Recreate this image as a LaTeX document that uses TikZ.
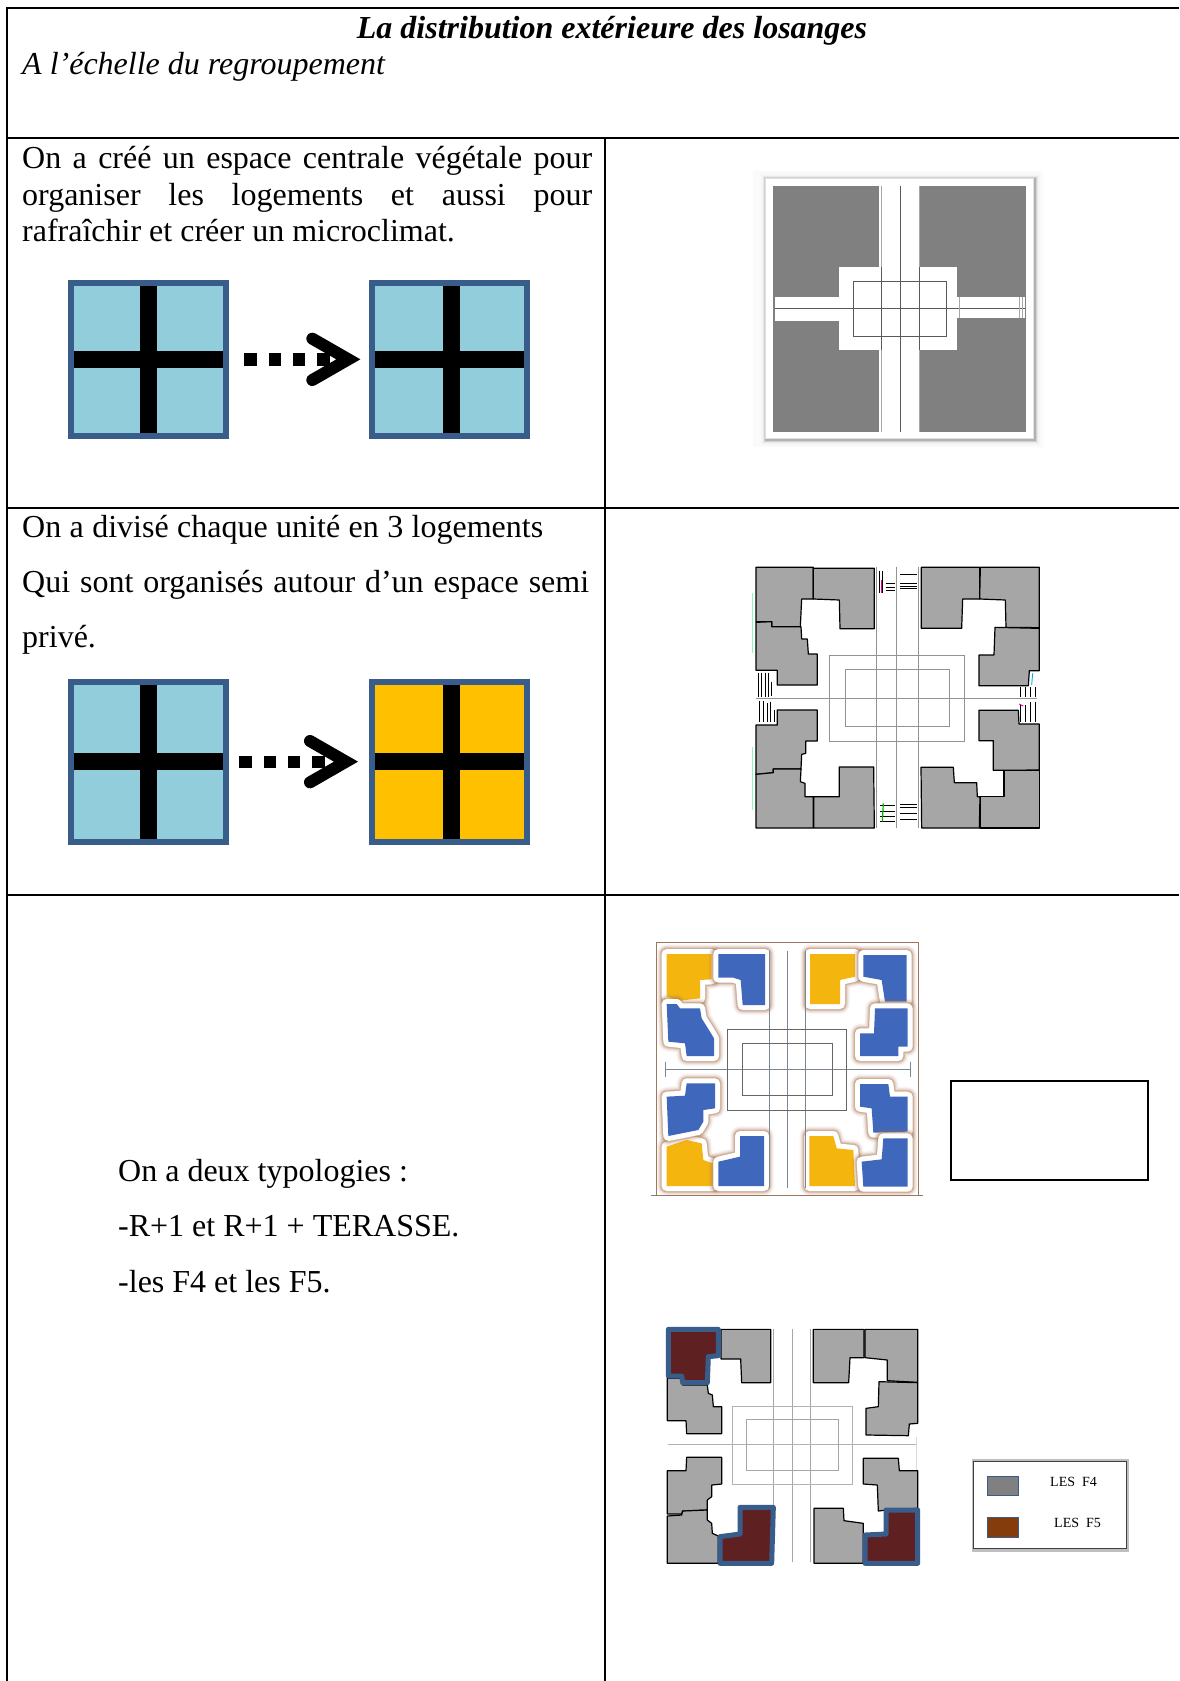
\documentclass[tikz,border=0pt]{standalone}
\usepackage{fontspec}
\setmainfont{Liberation Serif}
\definecolor{frameblue}{HTML}{385D8A}
\definecolor{skyfill}{HTML}{92CDDC}
\definecolor{sunfill}{HTML}{FFC000}
\definecolor{planyellow}{HTML}{F5B50F}
\definecolor{planblue}{HTML}{3F67BB}
\definecolor{plangray}{HTML}{A6A6A6}
\definecolor{maroon}{HTML}{5E2020}
\definecolor{halobrown}{HTML}{A9744F}
\definecolor{legbrown}{HTML}{843C0C}
\definecolor{slateline}{HTML}{7C8794}
\tikzset{
  rule/.style={line width=2pt,black},
  bodytext/.style={anchor=base west,inner sep=0pt,font=\fontsize{32}{38}\selectfont},
  titletext/.style={anchor=base,inner sep=0pt,font=\fontsize{32}{38}\selectfont\bfseries\itshape},
  subtext/.style={anchor=base west,inner sep=0pt,font=\fontsize{32}{38}\selectfont\itshape},
  legtext/.style={anchor=base west,inner sep=0pt,font=\fontsize{14}{16}\selectfont},
  zoomed/.style={x=0.33333pt,y=-0.33333pt},
  house/.style={fill=plangray,draw=black,line width=1.2pt,line join=round},
  planline/.style={draw=gray!85,line width=1pt},
  flatline/.style={draw=black!65,line width=.8pt},
  maroonhouse/.style={fill=maroon,draw=frameblue,line width=5pt,line join=round},
  noise/.style={line width=.9pt,black},
}
\newcommand{\unitsq}[6]{% x0, y0, y1, ycross, fill, vertical bar offset
  \fill[#5] ({#1+18},{#2+18}) rectangle ({#1+465},{#3-18});
  \fill[black] ({#1+#6},{#2+18}) rectangle ({#1+#6+51},{#3-18});
  \fill[black] ({#1+18},{#4}) rectangle ({#1+465},{#4+50});
  \draw[frameblue,line width=6pt] ({#1+9},{#2+9}) rectangle ({#1+474},{#3-9});
}
\newcommand{\dotarrow}[3]{% first dot x, dot top y, chevron apex x
  \foreach \k in {0,1,2,3}{\fill[black] ({#1+\k*73},{#2}) rectangle ({#1+\k*73+37},{#2+37});}
  \draw[black,line width=12pt,line cap=round,miter limit=10] ({#3-108},{#2+18-62}) -- ({#3},{#2+18}) -- ({#3-108},{#2+18+62});
}
\newcommand{\halopoly}[2]{%
  \foreach \w/\o in {20/.05,18/.08,16/.12,14/.18,12.5/.3}{%
    \draw[halobrown,opacity=\o,line width=\w pt,line join=round] #2 -- cycle;}
  \draw[white,line width=10pt,line join=round] #2 -- cycle;
  \fill[#1] #2 -- cycle;
}
\begin{document}
\begin{tikzpicture}[x=1pt,y=-1pt]
\useasboundingbox (0,0) rectangle (1179,1681);
\fill[white] (0,0) rectangle (1179,1681);
% table rules
\draw[rule] (1179,8) -- (7,8) -- (7,1681);
\draw[rule] (7,138) -- (1179,138);
\draw[rule] (7,508) -- (1179,508);
\draw[rule] (7,894.5) -- (1179,894.5);
\draw[rule] (605,138) -- (605,1681);
% header text
\node[titletext] (title) at (612,38) {La distribution extérieure des losanges};
\node[subtext] (sub) at (22,74) {A l’échelle du regroupement};
% row 1 text
\node[bodytext] (r1a) at (22,168) {\makebox[570pt][s]{On a créé un espace centrale végétale pour}};
\node[bodytext] (r1b) at (22,205) {\makebox[570pt][s]{organiser les logements et aussi pour}};
\node[bodytext] (r1c) at (22,241) {rafraîchir et créer un microclimat.};
% row 2 text
\node[bodytext] (r2a) at (22,537) {\makebox[521pt][s]{On a divisé chaque unité en 3 logements}};
\node[bodytext] (r2b) at (22,592) {\makebox[567pt][s]{Qui sont organisés autour d’un espace semi}};
\node[bodytext] (r2c) at (22,647) {privé.};
% row 3 text
\node[bodytext] (r3a) at (118,1181) {On a deux typologies :};
\node[bodytext] (r3b) at (118,1236) {-R+1 et R+1 + TERASSE.};
\node[bodytext] (r3c) at (118,1292) {-les F4 et les F5.};
% squares row 1
\begin{scope}[xshift=50pt,yshift=-270pt,zoomed]
  \unitsq{54}{30}{507}{243}{skyfill}{216}
  \unitsq{957}{30}{507}{243}{skyfill}{222}
  \dotarrow{583}{250}{895}
\end{scope}
% squares row 2
\begin{scope}[xshift=50pt,yshift=-670pt,zoomed]
  \unitsq{54}{27}{525}{249}{skyfill}{216}
  \unitsq{957}{27}{525}{249}{sunfill}{222}
  \dotarrow{568}{257}{888}
\end{scope}
% plan 1
\begin{scope}[xshift=720pt,yshift=-150pt,zoomed]
  \fill[black!2] (100,62) rectangle (968,892);
  \fill[black!4] (122,72) rectangle (960,884);
  \fill[black!9] (128,78) rectangle (955,880);
  \fill[black!18] (132,82) rectangle (950,876);
  \fill[black!30] (135,84) rectangle (947,873);
  \draw[black!12,fill=white,line width=1pt] (137,85) rectangle (941,866);
  \fill[black!50] (160,107) rectangle (917,845);
  \fill[white] (477,107) rectangle (600,845);
  \fill[white] (165,440) rectangle (360,512);
  \fill[white] (710,440) rectangle (915,505);
  \fill[white] (358,350) rectangle (712,600);
  \draw[flatline] (400,394) rectangle (680,558);
  \draw[flatline] (484,350) -- (484,600);
  \draw[flatline] (597,350) -- (597,600);
  \draw[flatline] (540,107) -- (540,845);
  \draw[flatline] (165,476) -- (915,476);
  \draw[black!35,line width=.6pt] (484,107) -- (484,350) (484,600) -- (484,845) (597,107) -- (597,350) (597,600) -- (597,845);
  \draw[black!35,line width=.6pt] (718,440) -- (718,505) (898,440) -- (898,505) (908,440) -- (908,505);
\end{scope}
% plan 2
\begin{scope}[xshift=720pt,yshift=-550pt,zoomed]
  \foreach \p in {469,530,595}{\draw[planline] (\p,50) -- (\p,835);}
  \draw[planline] (108,445) -- (950,445);
  \draw[planline] (327,316) rectangle (734,575);
  \draw[planline] (376,359) rectangle (688,530);
  \draw[house] (108,52) -- (280,52) -- (280,147) -- (245,147) -- (241,230) -- (155,230) -- (155,215) -- (108,215) -- cycle;
  \draw[house] (280,55) -- (463,55) -- (463,236) -- (360,236) -- (358,150) -- (280,147) -- cycle;
  \draw[house] (108,217) -- (155,215) -- (155,230) -- (243,230) -- (245,267) -- (262,267) -- (265,312) -- (292,312) -- (292,405) -- (172,405) -- (172,361) -- (108,361) -- cycle;
  \draw[house] (604,52) -- (779,52) -- (779,147) -- (728,147) -- (725,235) -- (604,235) -- cycle;
  \draw[house] (781,52) -- (958,52) -- (958,233) -- (858,232) -- (856,150) -- (779,147) -- cycle;
  \draw[house] (825,232) -- (958,235) -- (958,362) -- (928,362) -- (925,407) -- (777,407) -- (777,315) -- (822,315) -- cycle;
  \draw[house] (108,525) -- (172,525) -- (172,480) -- (292,480) -- (292,573) -- (257,573) -- (257,610) -- (245,613) -- (243,657) -- (160,657) -- (160,668) -- (108,673) -- cycle;
  \draw[house] (108,673) -- (160,668) -- (160,657) -- (243,657) -- (241,695) -- (255,700) -- (255,740) -- (280,740) -- (280,834) -- (108,834) -- cycle;
  \draw[house] (281,740) -- (358,740) -- (358,651) -- (461,651) -- (463,834) -- (281,834) -- cycle;
  \draw[house] (777,481) -- (895,481) -- (897,522) -- (958,522) -- (958,660) -- (820,661) -- (820,572) -- (777,572) -- cycle;
  \draw[house] (852,661) -- (958,661) -- (958,834) -- (780,834) -- (780,740) -- (852,740) -- cycle;
  \draw[house] (603,652) -- (700,652) -- (703,698) -- (770,698) -- (772,740) -- (780,740) -- (778,834) -- (605,834) -- cycle;
  % small stair details
  \draw[noise] (478,62) -- (478,128) (488,62) -- (488,128) (497,100) -- (525,100) (497,112) -- (525,112) (497,122) -- (525,122) (540,72) -- (590,72) (540,100) -- (590,100) (540,108) -- (590,108) (540,116) -- (590,116);
  \draw[magenta,line width=.8pt] (484,90) -- (484,128);
  \draw[noise] (480,765) -- (525,765) (480,785) -- (525,785) (480,800) -- (525,800) (540,762) -- (590,762) (540,772) -- (590,772) (540,790) -- (590,790) (540,808) -- (590,808) (480,815) -- (525,815);
  \draw[green!70!black,line width=1.2pt] (490,760) -- (487,815);
  \draw[noise] (115,368) -- (115,440) (125,368) -- (125,440) (135,368) -- (135,440) (145,368) -- (145,440) (155,395) -- (155,438);
  \draw[noise] (118,452) -- (118,515) (130,452) -- (130,515) (142,460) -- (142,515) (152,455) -- (152,515) (162,480) -- (162,515);
  \draw[noise] (900,412) -- (900,440) (915,412) -- (915,440) (930,412) -- (930,440) (945,412) -- (945,440);
  \draw[noise] (900,465) -- (900,515) (915,465) -- (915,515) (930,455) -- (930,515) (945,455) -- (945,515);
  \draw[cyan,line width=.9pt] (938,370) -- (935,405);
  \draw[magenta,line width=.9pt] (897,462) -- (910,468);
  \draw[green!60!cyan,opacity=.5,line width=.6pt] (98,130) -- (98,310);
  \draw[green!60!cyan,opacity=.5,line width=.6pt] (98,590) -- (98,780);
\end{scope}
% colour plan
\begin{scope}[xshift=640pt,yshift=-930pt,zoomed]
  \draw[halobrown!70!gray,line width=1pt] (48,795) -- (48,38) -- (835,38) -- (835,795);
  \draw[halobrown!70!gray,line width=1pt] (33,797) -- (850,797);
  \halopoly{planyellow}{(80,72) -- (215,72) -- (215,148) -- (180,150) -- (180,205) -- (120,212) -- (80,200)}
  \halopoly{planyellow}{(510,72) -- (645,72) -- (645,140) -- (600,150) -- (600,222) -- (510,222)}
  \halopoly{planyellow}{(80,650) -- (140,630) -- (185,640) -- (190,690) -- (218,700) -- (218,768) -- (80,768)}
  \halopoly{planyellow}{(508,618) -- (580,618) -- (590,655) -- (640,660) -- (645,768) -- (508,768)}
  \halopoly{planblue}{(235,72) -- (375,72) -- (375,225) -- (308,225) -- (302,150) -- (280,143) -- (235,143)}
  \halopoly{planblue}{(80,222) -- (110,222) -- (120,235) -- (180,235) -- (185,265) -- (205,297) -- (222,325) -- (222,378) -- (140,378) -- (135,340) -- (85,335)}
  \halopoly{planblue}{(670,75) -- (800,75) -- (800,215) -- (735,215) -- (725,150) -- (670,140)}
  \halopoly{planblue}{(705,235) -- (803,235) -- (803,350) -- (775,350) -- (775,378) -- (660,378) -- (660,310) -- (702,310)}
  \halopoly{planblue}{(140,460) -- (225,460) -- (225,535) -- (190,540) -- (190,575) -- (175,600) -- (85,618) -- (80,500) -- (135,497)}
  \halopoly{planblue}{(300,618) -- (372,618) -- (372,768) -- (235,768) -- (235,695) -- (300,680)}
  \halopoly{planblue}{(660,462) -- (745,462) -- (750,500) -- (803,500) -- (803,605) -- (700,608) -- (695,535) -- (660,530)}
  \halopoly{planblue}{(730,625) -- (803,625) -- (803,770) -- (670,770) -- (665,695) -- (725,688)}
  \foreach \p in {388,442,497}{\draw[slateline,line width=.8pt] (\p,62) -- (\p,775);}
  \draw[slateline,line width=.8pt] (75,418) -- (810,418);
  \draw[slateline,line width=.8pt] (75,395) -- (75,440);
  \draw[slateline,line width=.8pt] (810,395) -- (810,440);
  \draw[black!60,line width=.8pt] (263,298) rectangle (620,540);
  \draw[black!60,line width=.8pt] (306,340) rectangle (578,495);
\end{scope}
% empty box
\draw[line width=1.4pt] (951,1081) rectangle (1148,1180);
% typology plan
\begin{scope}[xshift=650pt,yshift=-1310pt,zoomed]
  \foreach \p in {371,428,482}{\draw[planline,draw=gray!70] (\p,58) -- (\p,755);}
  \draw[planline,draw=gray!60] (55,403) -- (797,403);
  \draw[black!15,line width=.8pt] (798,380) -- (798,600);
  \draw[planline,draw=gray!60] (246,290) rectangle (607,522);
  \draw[planline,draw=gray!70] (289,328) rectangle (566,480);
  \draw[house] (213,58) -- (362,58) -- (362,218) -- (275,218) -- (272,147) -- (213,147) -- cycle;
  \draw[house] (52,205) -- (95,205) -- (98,225) -- (172,225) -- (175,250) -- (187,255) -- (190,290) -- (215,290) -- (215,371) -- (110,371) -- (108,332) -- (52,332) -- cycle;
  \draw[house] (490,58) -- (642,58) -- (642,143) -- (600,143) -- (596,218) -- (490,218) -- cycle;
  \draw[house] (645,58) -- (803,58) -- (803,217) -- (712,212) -- (712,150) -- (645,143) -- cycle;
  \draw[house] (687,215) -- (803,218) -- (803,340) -- (778,342) -- (775,377) -- (648,375) -- (648,295) -- (685,290) -- cycle;
  \draw[house] (110,442) -- (215,442) -- (215,522) -- (185,525) -- (185,560) -- (172,570) -- (172,600) -- (98,603) -- (95,612) -- (52,612) -- (52,482) -- (108,482) -- cycle;
  \draw[house] (52,618) -- (95,615) -- (98,603) -- (172,600) -- (172,630) -- (185,640) -- (187,670) -- (205,678) -- (205,760) -- (52,760) -- cycle;
  \draw[house] (640,445) -- (745,445) -- (748,482) -- (803,482) -- (803,595) -- (710,600) -- (685,603) -- (682,525) -- (640,522) -- cycle;
  \draw[house] (492,595) -- (580,595) -- (582,632) -- (640,640) -- (640,760) -- (492,760) -- cycle;
  \draw[maroonhouse] (55,58) -- (205,58) -- (205,137) -- (175,140) -- (172,218) -- (98,218) -- (95,198) -- (55,198) -- cycle;
  \draw[maroonhouse] (270,592) -- (370,592) -- (365,760) -- (210,760) -- (210,680) -- (270,672) -- cycle;
  \draw[maroonhouse] (708,600) -- (803,600) -- (803,760) -- (645,760) -- (645,675) -- (708,672) -- cycle;
\end{scope}
% legend
\begin{scope}[xshift=960pt,yshift=-1440pt,zoomed]
  \draw[black!25,line width=2.4pt,fill=white] (39,60) rectangle (502,331);
  \draw[black!75,line width=1.2pt] (40,65) rectangle (500,325);
  \draw[frameblue,line width=1pt,fill=black!50] (83,108) rectangle (176,165);
  \draw[frameblue,line width=1pt,fill=legbrown] (83,233) rectangle (176,291);
  \node[legtext] (legA) at (270,140) {LES\ \ F4};
  \node[legtext] (legB) at (282,263) {LES\ \ F5};
\end{scope}
\end{tikzpicture}
\end{document}
